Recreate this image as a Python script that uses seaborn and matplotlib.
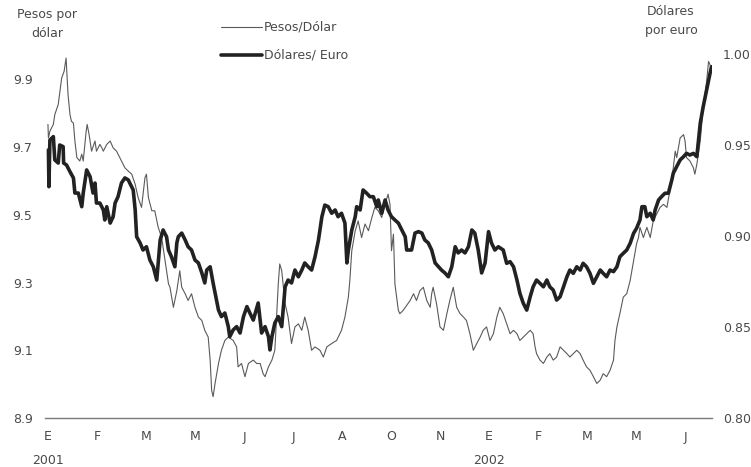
import matplotlib
matplotlib.use("Agg")
import matplotlib.pyplot as plt
import seaborn as sns
import pandas as pd

# Month labels along the bottom axis (one tick per label)
month_labels = ["E\n2001", "F", "M", "M", "J", "J", "A", "O", "N", "E\n2002", "F", "M", "M", "J"]

# Pesos per dollar (left axis); x in month-tick units
peso_x = [0.00,0.01,0.04,0.11,0.14,0.21,0.28,0.33,0.37,0.41,0.45,0.48,0.52,0.55,0.59,0.65,0.69,0.72,0.78,0.80,
          0.84,0.89,0.96,0.99,1.06,1.10,1.13,1.20,1.27,1.33,1.40,1.50,1.57,1.64,1.71,1.78,1.84,1.91,1.98,2.01,
          2.05,2.12,2.18,2.25,2.32,2.39,2.46,2.49,2.56,2.63,2.69,2.73,2.80,2.86,2.93,3.00,3.07,3.14,3.20,3.27,
          3.31,3.34,3.37,3.41,3.48,3.54,3.61,3.68,3.78,3.85,3.88,3.95,4.02,4.09,4.19,4.26,4.33,4.39,4.43,4.50,
          4.57,4.63,4.70,4.73,4.77,4.84,4.90,4.97,5.04,5.11,5.18,5.24,5.31,5.38,5.45,5.55,5.62,5.69,5.79,5.89,
          5.99,6.06,6.13,6.16,6.20,6.27,6.33,6.40,6.47,6.54,6.61,6.67,6.74,6.81,6.88,6.94,6.98,7.01,7.05,7.08,
          7.15,7.18,7.25,7.39,7.46,7.52,7.59,7.66,7.73,7.80,7.83,7.86,7.93,8.00,8.07,8.14,8.20,8.27,8.34,8.41,
          8.48,8.54,8.61,8.68,8.75,8.82,8.88,8.95,9.02,9.09,9.16,9.22,9.29,9.36,9.43,9.50,9.57,9.63,9.70,9.77,
          9.84,9.90,9.94,9.97,10.04,10.11,10.18,10.24,10.31,10.38,10.45,10.52,10.59,10.65,10.72,10.79,10.86,10.92,10.99,11.06,
          11.13,11.20,11.27,11.33,11.40,11.47,11.54,11.57,11.61,11.67,11.74,11.81,11.88,11.95,12.01,12.05,12.08,12.15,12.22,12.29,
          12.35,12.42,12.49,12.56,12.63,12.69,12.76,12.80,12.83,12.90,12.97,13.00,13.03,13.10,13.17,13.20,13.24,13.31,13.37,13.44,
          13.48,13.51,13.54]
peso_val = [9.767,9.727,9.747,9.767,9.796,9.826,9.904,9.924,9.963,9.855,9.796,9.776,9.771,9.718,9.669,9.659,9.679,9.659,9.747,9.767,
            9.737,9.688,9.718,9.688,9.708,9.698,9.688,9.708,9.718,9.698,9.688,9.659,9.639,9.629,9.620,9.590,9.551,9.522,9.610,9.620,
            9.551,9.512,9.512,9.463,9.433,9.365,9.296,9.286,9.227,9.276,9.335,9.286,9.267,9.247,9.267,9.227,9.198,9.188,9.159,9.139,
            9.071,8.982,8.963,9.002,9.061,9.100,9.129,9.139,9.129,9.110,9.051,9.061,9.022,9.061,9.071,9.061,9.061,9.031,9.022,9.051,
            9.071,9.100,9.296,9.355,9.335,9.237,9.198,9.120,9.169,9.178,9.159,9.198,9.159,9.100,9.110,9.100,9.080,9.110,9.120,9.129,
            9.159,9.198,9.257,9.306,9.394,9.453,9.482,9.433,9.473,9.453,9.492,9.522,9.512,9.492,9.531,9.561,9.531,9.394,9.443,9.296,
            9.218,9.208,9.218,9.247,9.267,9.247,9.276,9.286,9.247,9.227,9.267,9.286,9.237,9.169,9.159,9.208,9.247,9.286,9.227,9.208,
            9.198,9.188,9.149,9.100,9.120,9.139,9.159,9.169,9.129,9.149,9.198,9.227,9.208,9.178,9.149,9.159,9.149,9.129,9.139,9.149,
            9.159,9.149,9.110,9.090,9.071,9.061,9.080,9.090,9.071,9.080,9.110,9.100,9.090,9.080,9.090,9.100,9.090,9.071,9.051,9.041,
            9.022,9.002,9.012,9.031,9.022,9.041,9.071,9.129,9.169,9.208,9.257,9.267,9.306,9.365,9.414,9.433,9.463,9.433,9.463,9.433,
            9.482,9.502,9.522,9.531,9.522,9.571,9.639,9.688,9.669,9.727,9.737,9.718,9.669,9.659,9.639,9.620,9.649,9.718,9.816,9.894,
            9.953,9.943,9.924]

# Dollars per euro (right axis)
euro_x = [0.01,0.02,0.04,0.11,0.14,0.21,0.24,0.31,0.32,0.38,0.45,0.52,0.55,0.62,0.69,0.72,0.79,0.86,0.92,0.96,
          0.99,1.06,1.13,1.16,1.20,1.27,1.33,1.37,1.43,1.50,1.57,1.64,1.67,1.74,1.78,1.81,1.88,1.94,2.01,2.08,
          2.15,2.22,2.25,2.29,2.35,2.42,2.46,2.52,2.59,2.63,2.66,2.73,2.80,2.86,2.93,3.00,3.07,3.14,3.20,3.24,
          3.31,3.37,3.44,3.48,3.54,3.61,3.68,3.71,3.78,3.85,3.92,3.99,4.06,4.12,4.19,4.29,4.36,4.43,4.50,4.53,
          4.57,4.63,4.70,4.77,4.84,4.90,4.97,5.04,5.11,5.18,5.24,5.31,5.38,5.45,5.52,5.59,5.65,5.72,5.79,5.86,
          5.92,5.99,6.06,6.10,6.13,6.20,6.27,6.30,6.37,6.43,6.50,6.57,6.64,6.71,6.74,6.81,6.88,6.94,7.01,7.08,
          7.15,7.22,7.29,7.32,7.42,7.49,7.56,7.63,7.69,7.76,7.83,7.90,7.97,8.03,8.10,8.17,8.24,8.31,8.37,8.44,
          8.51,8.58,8.65,8.71,8.78,8.85,8.92,8.99,9.05,9.12,9.19,9.29,9.36,9.43,9.50,9.57,9.63,9.70,9.77,9.84,
          9.90,9.97,10.04,10.11,10.18,10.24,10.31,10.38,10.45,10.52,10.59,10.65,10.72,10.79,10.86,10.92,10.99,11.06,11.13,11.20,
          11.27,11.33,11.40,11.47,11.54,11.61,11.67,11.74,11.81,11.88,11.95,12.01,12.08,12.12,12.18,12.22,12.29,12.35,12.39,12.46,
          12.52,12.59,12.66,12.73,12.76,12.83,12.90,12.97,13.03,13.10,13.17,13.24,13.31,13.37,13.44,13.51,13.54]
euro_val = [0.9473,0.9271,0.9527,0.9546,0.9418,0.9401,0.9500,0.9491,0.9401,0.9390,0.9353,0.9319,0.9236,0.9236,0.9161,0.9236,0.9363,0.9326,0.9236,0.9291,
            0.9181,0.9181,0.9143,0.9088,0.9161,0.9071,0.9106,0.9181,0.9216,0.9291,0.9319,0.9308,0.9291,0.9253,0.9143,0.8996,0.8962,0.8923,0.8941,0.8868,
            0.8831,0.8758,0.8852,0.8978,0.9033,0.8996,0.8923,0.8886,0.8831,0.8962,0.8996,0.9016,0.8978,0.8941,0.8923,0.8868,0.8852,0.8797,0.8742,0.8813,
            0.8831,0.8742,0.8648,0.8593,0.8557,0.8577,0.8502,0.8447,0.8484,0.8502,0.8467,0.8557,0.8612,0.8577,0.8538,0.8632,0.8467,0.8502,0.8447,0.8374,
            0.8447,0.8522,0.8557,0.8502,0.8721,0.8758,0.8742,0.8813,0.8776,0.8813,0.8852,0.8831,0.8813,0.8886,0.8978,0.9106,0.9170,0.9161,0.9125,0.9143,
            0.9106,0.9125,0.9071,0.8852,0.8923,0.9033,0.9106,0.9161,0.9143,0.9253,0.9236,0.9216,0.9216,0.9161,0.9198,0.9125,0.9198,0.9143,0.9106,0.9088,
            0.9071,0.9033,0.8996,0.8923,0.8923,0.9016,0.9024,0.9016,0.8978,0.8962,0.8923,0.8852,0.8831,0.8813,0.8797,0.8776,0.8831,0.8941,0.8907,0.8923,
            0.8907,0.8941,0.9033,0.9016,0.8923,0.8797,0.8852,0.9024,0.8962,0.8923,0.8941,0.8923,0.8850,0.8859,0.8831,0.8758,0.8685,0.8630,0.8593,0.8666,
            0.8721,0.8758,0.8740,0.8721,0.8758,0.8721,0.8703,0.8648,0.8666,0.8721,0.8776,0.8813,0.8795,0.8831,0.8813,0.8850,0.8831,0.8795,0.8740,0.8776,
            0.8813,0.8795,0.8776,0.8813,0.8804,0.8831,0.8886,0.8905,0.8923,0.8960,0.9015,0.9042,0.9088,0.9161,0.9161,0.9106,0.9125,0.9088,0.9143,0.9198,
            0.9216,0.9235,0.9235,0.9308,0.9345,0.9381,0.9418,0.9436,0.9454,0.9445,0.9454,0.9436,0.9619,0.9710,0.9802,0.9894,0.9930]

peso_df = pd.DataFrame({"mes": peso_x, "valor": peso_val})
euro_df = pd.DataFrame({"mes": euro_x, "valor": euro_val})

sns.set_style("white")
plt.rcParams["font.family"] = ["DejaVu Sans"]
text_color = "#4a4a4a"
axis_color = "#7a7a7a"
fs = 9

W, H = 751, 467
fig = plt.figure(figsize=(W / 100, H / 100), dpi=100)
fig.patch.set_facecolor("white")
ax = fig.add_axes([45 / W, 1 - 418 / H, (712 - 45) / W, (418 - 54) / H])
ax2 = ax.twinx()

sns.lineplot(data=peso_df, x="mes", y="valor", ax=ax, color="#5a5a5a", linewidth=0.8,
             estimator=None, sort=False, label="Pesos/Dólar", legend=False)
sns.lineplot(data=euro_df, x="mes", y="valor", ax=ax2, color="#222222", linewidth=2.6,
             estimator=None, sort=False, label="Dólares/ Euro", legend=False)

ax.set_xlim(-0.06, 13.55)
ax.set_ylim(8.9, 9.975)
ax2.set_ylim(0.80, 1.00)

ax.set_yticks([8.9, 9.1, 9.3, 9.5, 9.7, 9.9])
ax.set_yticklabels(["8.9", "9.1", "9.3", "9.5", "9.7", "9.9"])
ax2.set_yticks([0.80, 0.85, 0.90, 0.95, 1.00])
ax2.set_yticklabels(["0.80", "0.85", "0.90", "0.95", "1.00"])
ax.set_xticks(range(len(month_labels)))
ax.set_xticklabels(month_labels)

for a in (ax, ax2):
    a.set_xlabel("")
    a.set_ylabel("")
    for s in a.spines.values():
        s.set_visible(False)
    a.tick_params(axis="y", length=0, labelsize=fs, labelcolor=text_color)
ax.tick_params(axis="y", pad=9)
ax2.tick_params(axis="y", pad=8)
ax.spines["bottom"].set_visible(True)
ax.spines["bottom"].set_color(axis_color)
ax.spines["bottom"].set_linewidth(1.0)
ax.tick_params(axis="x", direction="in", length=3, width=0.8, color=axis_color,
               labelsize=fs, labelcolor=text_color, pad=9)
for lbl in ax.get_xticklabels():
    lbl.set_linespacing(2.0)

# Axis unit captions
fig.text(47 / W, 1 - 8 / H, "Pesos por\ndólar", ha="center", va="top", fontsize=fs,
         color=text_color, linespacing=1.6)
fig.text(671 / W, 1 - 5 / H, "Dólares\npor euro", ha="center", va="top", fontsize=fs,
         color=text_color, linespacing=1.6)

handles = [ax.lines[0], ax2.lines[0]]
leg = fig.legend(handles, ["Pesos/Dólar", "Dólares/ Euro"], loc="upper left",
                 bbox_to_anchor=(221 / W, 1 - 21 / H), bbox_transform=fig.transFigure,
                 frameon=False, fontsize=fs, handlelength=3.3, handletextpad=0.15,
                 labelspacing=1.2, borderpad=0, borderaxespad=0)
for t in leg.get_texts():
    t.set_color(text_color)

fig.savefig("out.png", dpi=100, facecolor="white")
